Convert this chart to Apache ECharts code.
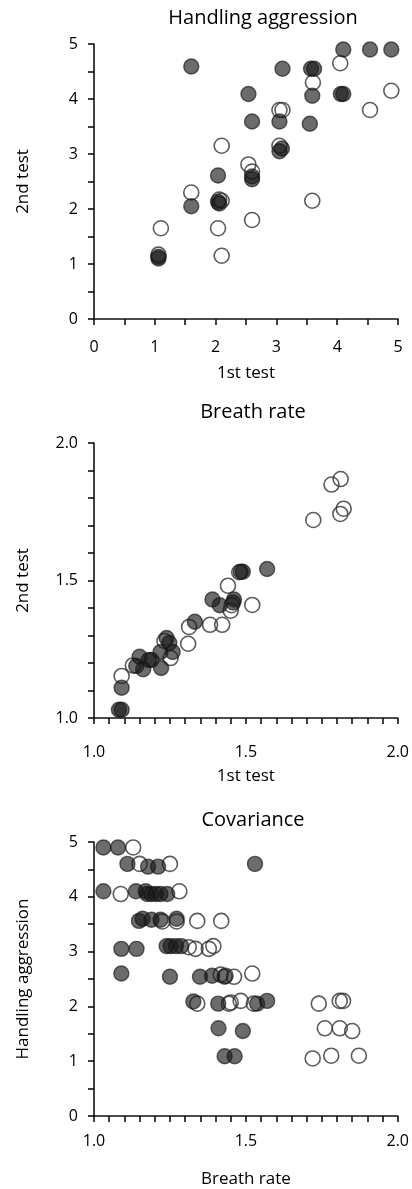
<!DOCTYPE html>
<html>
<head>
<meta charset="utf-8">
<script src="https://cdn.jsdelivr.net/npm/echarts@6/dist/echarts.min.js"></script>
<style>html,body{margin:0;padding:0;background:#fff}#c{width:412px;height:1189px}</style>
</head>
<body>
<div id="c"></div>
<script>
// ---- Data ----
const titles = ['Handling aggression', 'Breath rate', 'Covariance'];
const xNames = ['1st test', '1st test', 'Breath rate'];
const yNames = ['2nd test', '2nd test', 'Handling aggression'];

const handlingFilled = [[4.10,4.90],[4.54,4.90],[4.89,4.90],[1.60,4.59],[3.10,4.55],[3.57,4.55],[3.62,4.55],[2.54,4.09],[3.59,4.06],[4.06,4.09],[4.10,4.09],[2.60,3.59],[3.05,3.59],[3.55,3.55],[3.05,3.05],[3.09,3.10],[2.04,2.61],[2.60,2.59],[2.60,2.54],[1.60,2.05],[2.04,2.13],[2.06,2.10],[1.06,1.10],[1.06,1.13]];
const handlingOpen = [[4.05,4.65],[3.60,4.30],[4.89,4.15],[4.54,3.80],[3.05,3.80],[3.10,3.80],[2.10,3.15],[3.05,3.15],[2.54,2.81],[2.60,2.68],[1.60,2.30],[3.59,2.15],[2.10,2.15],[2.06,2.17],[2.60,1.80],[1.10,1.65],[2.04,1.65],[2.10,1.15],[1.06,1.17]];

const breathFilled = [[1.570,1.542],[1.490,1.532],[1.483,1.532],[1.390,1.431],[1.414,1.410],[1.461,1.431],[1.458,1.420],[1.332,1.350],[1.239,1.291],[1.248,1.273],[1.259,1.240],[1.219,1.240],[1.150,1.223],[1.189,1.211],[1.180,1.211],[1.139,1.189],[1.162,1.177],[1.221,1.182],[1.091,1.110],[1.082,1.030],[1.091,1.030]];
const breathOpen = [[1.812,1.869],[1.782,1.849],[1.822,1.761],[1.811,1.742],[1.722,1.720],[1.478,1.530],[1.441,1.481],[1.450,1.390],[1.453,1.410],[1.521,1.411],[1.313,1.331],[1.382,1.339],[1.422,1.339],[1.310,1.270],[1.232,1.280],[1.252,1.218],[1.128,1.191],[1.091,1.153]];

const covFilled = [[1.031,4.90],[1.079,4.90],[1.110,4.60],[1.178,4.55],[1.211,4.55],[1.530,4.60],[1.031,4.10],[1.138,4.10],[1.170,4.10],[1.175,4.05],[1.189,4.05],[1.204,4.05],[1.219,4.05],[1.241,4.05],[1.148,3.56],[1.160,3.60],[1.189,3.58],[1.219,3.58],[1.272,3.60],[1.090,3.05],[1.140,3.05],[1.239,3.10],[1.252,3.10],[1.270,3.10],[1.287,3.10],[1.090,2.60],[1.250,2.54],[1.349,2.54],[1.389,2.56],[1.430,2.54],[1.327,2.09],[1.409,2.05],[1.537,2.05],[1.570,2.10],[1.410,1.60],[1.490,1.55],[1.430,1.09],[1.463,1.09]];
const covOpen = [[1.129,4.90],[1.150,4.60],[1.250,4.60],[1.088,4.05],[1.281,4.10],[1.225,3.55],[1.272,3.55],[1.340,3.56],[1.419,3.56],[1.312,3.08],[1.334,3.05],[1.378,3.05],[1.393,3.10],[1.417,2.58],[1.433,2.56],[1.461,2.54],[1.521,2.60],[1.340,2.05],[1.444,2.05],[1.450,2.07],[1.483,2.10],[1.526,2.05],[1.740,2.05],[1.809,2.10],[1.820,2.10],[1.760,1.60],[1.809,1.60],[1.850,1.55],[1.720,1.05],[1.781,1.10],[1.872,1.10]];

// axis ranges
const xRanges = [[0,5,0.5],[1,2,0.05],[1,2,0.05]];
const yRanges = [[0,5,0.5],[1,2,0.1],[0,5,0.5]];

// ---- Layout / style ----
const FONT = 'Open Sans';
const grids = [
  {left:94, width:304, top:44, height:275},
  {left:94, width:304, top:443, height:275},
  {left:94, width:304, top:842, height:275}
];
const titleTops = [3, 397, 805];
const titleCenters = [258, 248, 248];
const xLabelMargins = [20, 26, 17];
const xNameGaps = [46, 50, 55];

function isMajor(v, step){ return Math.abs(v/step - Math.round(v/step)) < 1e-6; }
function fmt(i, axis){
  return function(v){
    if (i === 0 || (i === 2 && axis === 'y')) return isMajor(v,1) ? String(Math.round(v)) : '';
    return isMajor(v,0.5) ? v.toFixed(1) : '';
  };
}

const axisLine = {show:true, lineStyle:{color:'#111', width:1.6}};
const axisTick = {show:true, inside:false, length:6, lineStyle:{color:'#111', width:1.6}};

const option = {
  animation:false,
  title: titles.map((t,i)=>({text:t, left:titleCenters[i], top:titleTops[i], textAlign:'center',
    textStyle:{fontFamily:FONT, fontSize:20, fontWeight:'normal', color:'#000'}})),
  grid: grids,
  xAxis: xRanges.map((r,i)=>({
    type:'value', gridIndex:i, min:r[0], max:r[1], interval:r[2],
    axisLine, axisTick, splitLine:{show:false},
    axisLabel:{show:true, showMinLabel:true, showMaxLabel:true, margin:xLabelMargins[i], formatter:fmt(i,'x'), fontFamily:FONT, fontSize:16, color:'#000'},
    name:xNames[i], nameLocation:'middle', nameGap:xNameGaps[i],
    nameTextStyle:{fontFamily:FONT, fontSize:17, color:'#000'}
  })),
  yAxis: yRanges.map((r,i)=>({
    type:'value', gridIndex:i, min:r[0], max:r[1], interval:r[2],
    axisLine, axisTick, splitLine:{show:false},
    axisLabel:{show:true, showMinLabel:true, showMaxLabel:true, margin:16, formatter:fmt(i,'y'), fontFamily:FONT, fontSize:16, color:'#000'},
    name:yNames[i], nameLocation:'middle', nameGap:62,
    nameTextStyle:{fontFamily:FONT, fontSize:17, color:'#000'}
  })),
  series: []
};

const sets = [[handlingOpen, handlingFilled],[breathOpen, breathFilled],[covOpen, covFilled]];
sets.forEach((pair,i)=>{
  option.series.push({type:'scatter', xAxisIndex:i, yAxisIndex:i, data:pair[0], symbol:'circle', symbolSize:15,
    itemStyle:{color:'rgba(255,255,255,0)', borderColor:'#333', borderWidth:1.6}});
  option.series.push({type:'scatter', xAxisIndex:i, yAxisIndex:i, data:pair[1], symbol:'circle', symbolSize:15,
    itemStyle:{color:'rgba(25,25,25,0.8)', borderColor:'rgba(20,20,20,0.8)', borderWidth:1.4}});
});

const chart = echarts.init(document.getElementById('c'), null, {renderer:'canvas'});
chart.setOption(option);
</script>
</body>
</html>
